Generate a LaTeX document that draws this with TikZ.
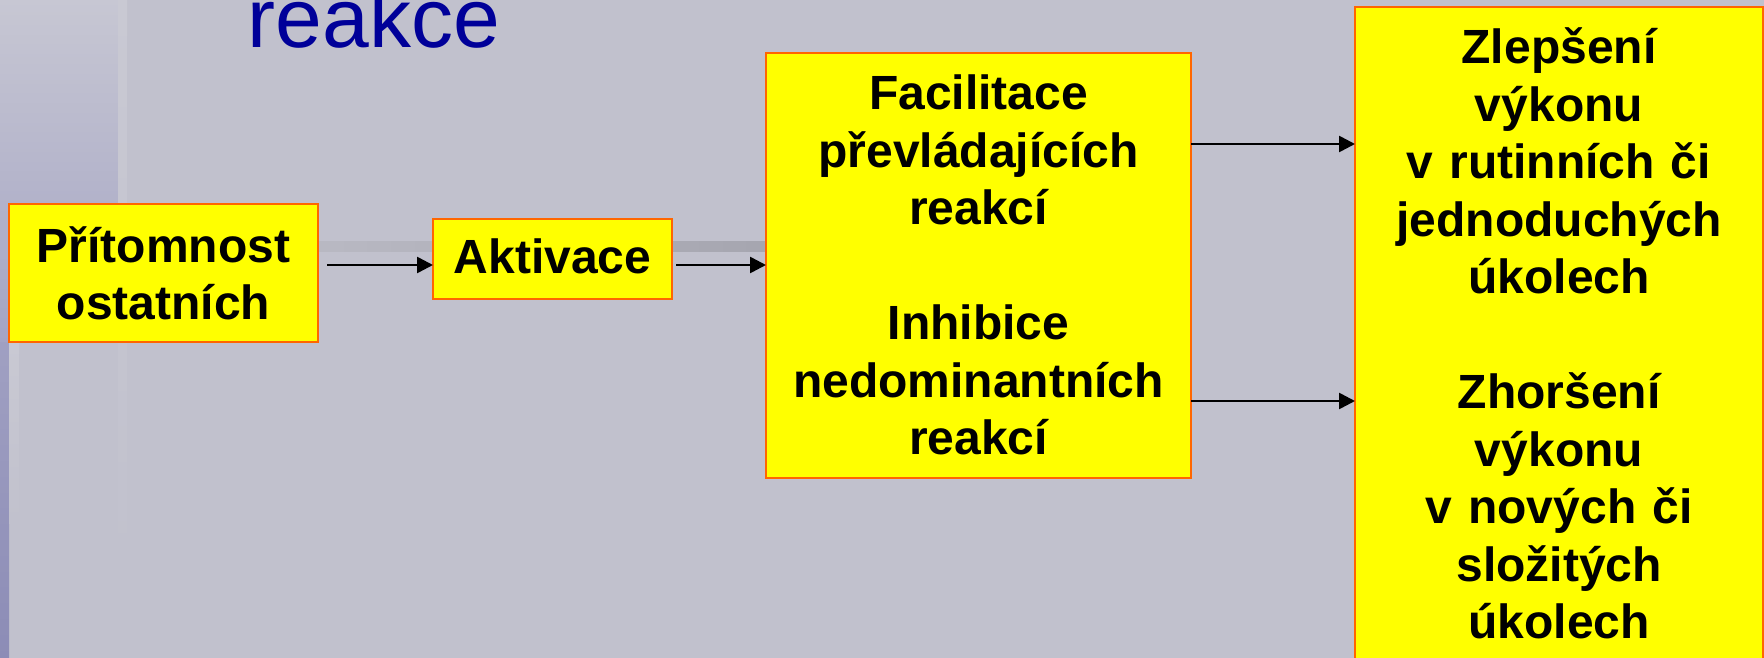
\documentclass[tikz,border=0pt]{standalone}
\usepackage{fontspec}
\setmainfont{Liberation Sans}
\usetikzlibrary{arrows.meta,calc}
\definecolor{bg}{RGB}{193,193,205}
\definecolor{lpTop}{RGB}{199,199,211}
\definecolor{lpBot}{RGB}{164,164,196}
\definecolor{stripTop}{RGB}{160,160,194}
\definecolor{stripBot}{RGB}{140,140,182}
\definecolor{lightstrip}{RGB}{201,201,211}
\definecolor{bandL}{RGB}{193,193,203}
\definecolor{bandR}{RGB}{160,160,170}
\definecolor{boxfill}{RGB}{255,255,0}
\definecolor{boxedge}{RGB}{255,102,0}
\definecolor{titleblue}{RGB}{0,0,153}
\begin{document}
\begin{tikzpicture}[x=1pt,y=-1pt,
  ybox/.style={rectangle, draw=boxedge, fill=boxfill, line width=2.5pt, inner sep=0pt, outer sep=0pt},
  txt/.style={font=\bfseries\fontsize{48}{57.5}\selectfont, text width=460pt, align=center, anchor=base, inner sep=0pt},
  arr/.style={line width=2.6pt, -{Triangle[length=16pt,width=16pt]}}]
\useasboundingbox (0,0) rectangle (1764,658);
\clip (0,0) rectangle (1764,658);
% background
\fill[bg] (0,0) rectangle (1764,658);
\shade[top color=lpTop, bottom color=lpBot] (0,0) rectangle (118,342);
\shade[top color=stripTop, bottom color=stripBot] (0,342) rectangle (9,658);
\shade[top color=lightstrip, bottom color=bg] (9,342) rectangle (19,523);
\shade[top color=lightstrip, bottom color=bg] (118,0) rectangle (127,568);
\shade[left color=bandL, right color=bandR] (118,241) rectangle (900,251);
% title
\node[font=\fontsize{84}{90}\selectfont, text=titleblue, anchor=base west, inner sep=0pt] (title) at (247.5,48) {reakce};
% boxes
\node[ybox, minimum width=309pt, minimum height=138pt] (b1) at (163.5,273) {};
\node[ybox, minimum width=239pt, minimum height=80pt] (b2) at (552.5,259) {};
\node[ybox, minimum width=425pt, minimum height=425pt] (b3) at (978.5,265.5) {};
\node[ybox, minimum width=408pt, minimum height=702pt] (b4) at (1559,358) {};
% texts
\node[txt] (t1) at (163.5,262) {Přítomnost\\ostatních};
\node[txt] (t2) at (552.5,273) {Aktivace};
\node[txt] (t3) at (978.5,110) {Facilitace\\převládajících\\reakcí\\[57.5pt]Inhibice\\nedominantních\\reakcí};
\node[txt] (t4) at (1559,64) {Zlepšení\\výkonu\\v rutinních či\\jednoduchých\\úkolech\\[57.5pt]Zhoršení\\výkonu\\v nových či\\složitých\\úkolech};
% connectors
\coordinate (ya) at (0,265);
\coordinate (yc) at (0,144);
\coordinate (yd) at (0,401);
\draw[arr] ($(b1.east |- ya)+(9,0)$) -- (b2.west |- ya);
\draw[arr] ($(b2.east |- ya)+(4,0)$) -- (b3.west |- ya);
\draw[arr] (b3.east |- yc) -- (b4.west |- yc);
\draw[arr] (b3.east |- yd) -- (b4.west |- yd);
\end{tikzpicture}
\end{document}
